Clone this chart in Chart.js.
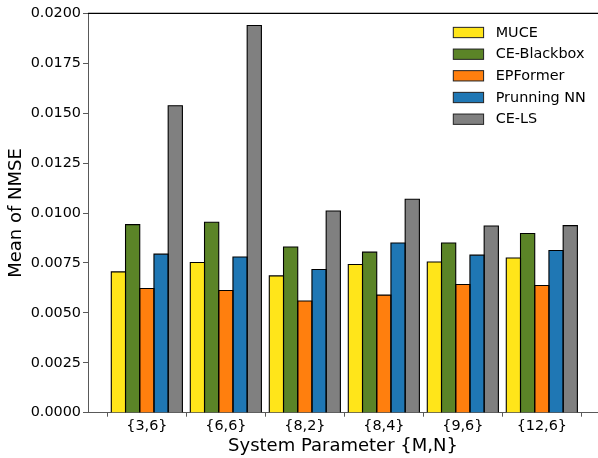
<!DOCTYPE html>
<html>
<head>
<meta charset="utf-8">
<script src="https://cdn.jsdelivr.net/npm/chart.js@4"></script>
<style>
  html, body { margin: 0; padding: 0; background: #ffffff; overflow: hidden; }
  canvas { display: block; }
</style>
</head>
<body>
<canvas id="c" width="598" height="458"></canvas>
<script>
const categories = ['{3,6}', '{6,6}', '{8,2}', '{8,4}', '{9,6}', '{12,6}'];
const seriesNames = ['MUCE', 'CE-Blackbox', 'EPFormer', 'Prunning NN', 'CE-LS'];
const muce     = [0.00705, 0.00752, 0.00685, 0.00742, 0.00755, 0.00775];
const blackbox = [0.00942, 0.00954, 0.00830, 0.00804, 0.00850, 0.00897];
const epformer = [0.00622, 0.00612, 0.00559, 0.00589, 0.00642, 0.00637];
const pruning  = [0.00794, 0.00780, 0.00717, 0.00850, 0.00789, 0.00812];
const cels     = [0.01537, 0.01939, 0.01010, 0.01069, 0.00935, 0.00937];
const yTicks   = [0, 0.0025, 0.005, 0.0075, 0.01, 0.0125, 0.015, 0.0175, 0.02];

const colors = ['#ffe51a', '#5b8427', '#ff7f0e', '#1f77b4', '#808080'];
const allSeries = [muce, blackbox, epformer, pruning, cels];
const FONT = 'DejaVu Sans';

const datasets = allSeries.map((vals, si) => ({
  label: seriesNames[si],
  data: vals.map((v, i) => ({ x: i, y: v })),
  backgroundColor: colors[si],
  borderWidth: 0,
  categoryPercentage: 0.9,
  barPercentage: 1.0
}));

const framePlugin = {
  id: 'frame',
  afterDatasetsDraw(chart) {
    const { ctx } = chart;
    ctx.save();
    ctx.strokeStyle = '#000000';
    ctx.lineWidth = 1.1;
    chart.data.datasets.forEach((ds, di) => {
      chart.getDatasetMeta(di).data.forEach(bar => {
        const left = bar.x - bar.width / 2;
        const top = Math.min(bar.y, bar.base);
        const h = Math.abs(bar.base - bar.y);
        ctx.beginPath();
        ctx.moveTo(left, top + h);
        ctx.lineTo(left, top);
        ctx.lineTo(left + bar.width, top);
        ctx.lineTo(left + bar.width, top + h);
        ctx.stroke();
      });
    });
    ctx.restore();
  },
  afterDraw(chart) {
    const { ctx, chartArea } = chart;
    ctx.save();
    ctx.strokeStyle = '#000000';
    ctx.lineWidth = 1.2;
    ctx.beginPath();
    ctx.moveTo(chartArea.left, chartArea.top);
    ctx.lineTo(chartArea.right, chartArea.top);
    ctx.stroke();
    // legend
    const boxX = 453.3, boxW = 30.3, boxH = 10.3, textX = 495.7;
    const rowY = [32.5, 54.2, 75.8, 97.5, 119.2];
    ctx.font = '14.4px "' + FONT + '"';
    ctx.textBaseline = 'middle';
    ctx.textAlign = 'left';
    seriesNames.forEach((name, i) => {
      const cy = rowY[i];
      ctx.fillStyle = colors[i];
      ctx.fillRect(boxX, cy - boxH / 2, boxW, boxH);
      ctx.strokeStyle = '#222222';
      ctx.lineWidth = 1;
      ctx.strokeRect(boxX, cy - boxH / 2, boxW, boxH);
      ctx.fillStyle = '#000000';
      ctx.fillText(name, textX, cy + 0.5);
    });
    ctx.restore();
  }
};

new Chart(document.getElementById('c'), {
  type: 'bar',
  data: { datasets },
  options: {
    responsive: false,
    animation: false,
    events: [],
    layout: { padding: { top: 13.3, left: 0, right: 0, bottom: 0 } },
    plugins: { legend: { display: false }, tooltip: { enabled: false } },
    scales: {
      x: {
        type: 'linear',
        min: -0.745,
        max: 5.711,
        offset: false,
        afterFit(s) { s.height = 45.3; },
        ticks: {
          stepSize: 1,
          includeBounds: false,
          autoSkip: false,
          maxRotation: 0,
          padding: 1,
          color: '#000000',
          font: { family: FONT, size: 14.4 },
          callback: (v) => (Number.isInteger(v) && categories[v] !== undefined) ? categories[v] : ''
        },
        grid: { drawOnChartArea: false, drawTicks: true, tickLength: 4, tickColor: '#595959', tickWidth: 1 },
        border: { display: true, color: '#595959', width: 1 },
        title: {
          display: true,
          text: 'System Parameter {M,N}',
          color: '#000000',
          font: { family: FONT, size: 18 },
          padding: { top: 0, bottom: 0.5 }
        }
      },
      y: {
        min: 0,
        max: 0.02,
        afterFit(s) { s.width = 88; },
        afterBuildTicks(s) { s.ticks = yTicks.map(v => ({ value: v })); },
        ticks: {
          padding: 2,
          color: '#000000',
          font: { family: FONT, size: 14.4 },
          callback: (v) => Number(v).toFixed(4)
        },
        grid: { drawOnChartArea: false, drawTicks: true, tickLength: 5, tickColor: '#595959', tickWidth: 1 },
        border: { display: true, color: '#595959', width: 1 },
        title: {
          display: true,
          text: 'Mean of NMSE',
          color: '#000000',
          font: { family: FONT, size: 18 },
          padding: { top: 6, bottom: 0 }
        }
      }
    }
  },
  plugins: [framePlugin]
});
</script>
</body>
</html>
